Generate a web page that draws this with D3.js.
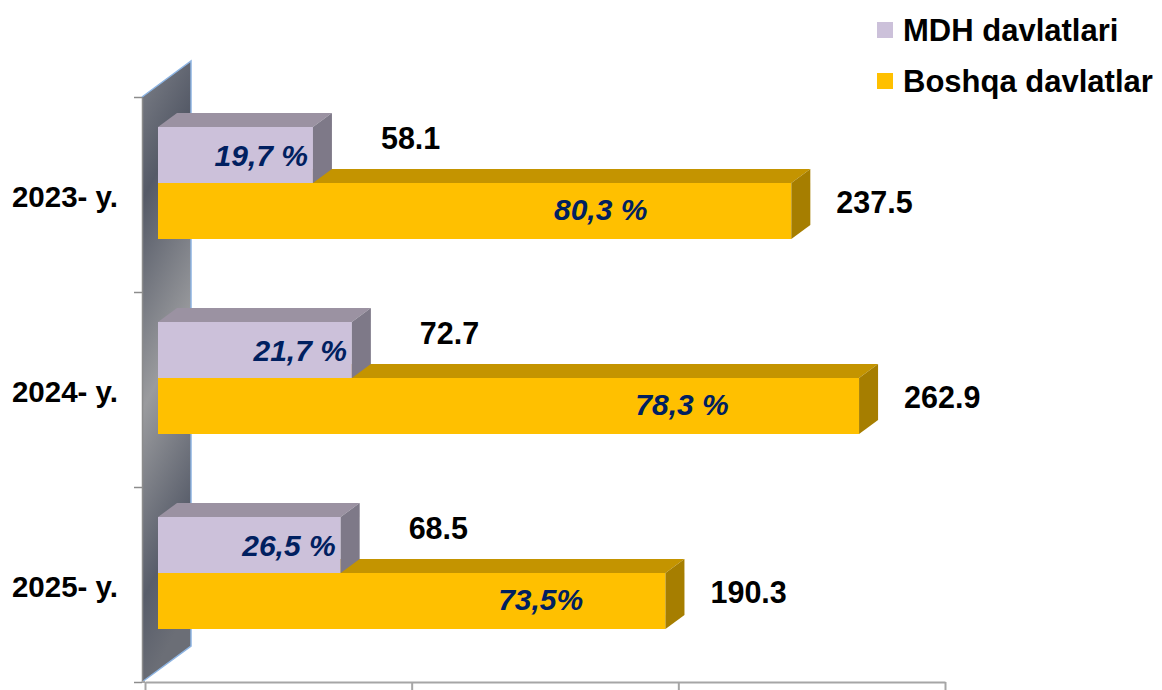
<!DOCTYPE html>
<html>
<head>
<meta charset="utf-8">
<script src="https://cdn.jsdelivr.net/npm/d3@7"></script>
<style>
  body { margin: 0; background: #fff; }
  text { font-family: "Liberation Sans", Arial, sans-serif; font-weight: bold; }
</style>
</head>
<body>
<div id="chart"></div>
<script>
const years = ["2023- y.", "2024- y.", "2025- y."];
const mdh = [58.1, 72.7, 68.5];
const other = [237.5, 262.9, 190.3];
const mdhPct = ["19,7 %", "21,7 %", "26,5 %"];
const otherPct = ["80,3 %", "78,3 %", "73,5%"];
// where the share label of the second series sits, read on the value axis
const otherPctAt = [166, 196.5, 143.5];
const xTicks = [0, 100, 200, 300];
const seriesNames = ["MDH davlatlari", "Boshqa davlatlar"];

var width = 1162, height = 690;

var svg = d3.select("#chart")
  .append("svg")
    .attr("width", width)
    .attr("height", height);

var x = d3.scaleLinear()
    .domain([0, 300])
    .range([145, 945]);

var y = d3.scaleBand()
    .domain(years)
    .range([97, 682]);

// 3d offsets
var wallDx = 49, wallDy = -36;
var barDx = 19, barDy = -14;
var barShift = 13;      // front face of the bars sits a bit behind the wall front
var barH = 56, barTop = 30;

var pts = p => p.map(d => d.join(",")).join(" ");

// back wall
var defs = svg.append("defs");
var grad = defs.append("linearGradient")
    .attr("id", "wall")
    .attr("x1", 0).attr("y1", 0).attr("x2", 0.15).attr("y2", 1);
[[0, "#7d8088"], [0.22, "#555a67"], [0.55, "#9a9b9e"], [0.85, "#585d6a"], [1, "#6b6e76"]]
  .forEach(s => grad.append("stop").attr("offset", s[0]).attr("stop-color", s[1]));

var wx = x(0) - 3, wTop = y.range()[0], wBot = y.range()[1];
svg.append("polygon")
    .attr("points", pts([[wx, wBot], [wx, wTop], [wx + wallDx, wTop + wallDy], [wx + wallDx, wBot + wallDy]]))
    .attr("fill", "url(#wall)");
svg.append("polyline")
    .attr("points", pts([[wx, wTop], [wx + wallDx, wTop + wallDy], [wx + wallDx, wBot + wallDy], [wx, wBot]]))
    .attr("fill", "none")
    .attr("stroke", "#8db4e2")
    .attr("stroke-width", 1.5);

// axes
var yTicks = d3.scaleLinear().domain([0, years.length]).range([wTop, wBot]);
var leftAxis = svg.append("g")
    .attr("transform", "translate(" + wx + ",0)")
    .call(d3.axisLeft(yTicks).tickValues(d3.range(years.length + 1)).tickFormat("").tickSize(8).tickSizeOuter(0));
leftAxis.selectAll("line, path").attr("stroke", "#8c8c8c").attr("stroke-width", 1.5);

var bottomAxis = svg.append("g")
    .attr("transform", "translate(0," + wBot + ")")
    .call(d3.axisBottom(x).tickValues(xTicks).tickFormat("").tickSize(9).tickSizeOuter(0));
bottomAxis.selectAll("line, path").attr("stroke", "#a6a6a6").attr("stroke-width", 2);
bottomAxis.append("line")
    .attr("x1", wx).attr("x2", x(0))
    .attr("stroke", "#a6a6a6").attr("stroke-width", 2);

var bx = v => x(v) + barShift;

function faces(g, v, yTop, c, parts) {
  var x0 = bx(0), x1 = bx(v);
  if (parts.indexOf("top") >= 0)
    g.append("polygon")
      .attr("points", pts([[x0, yTop], [x0 + barDx, yTop + barDy], [x1 + barDx, yTop + barDy], [x1, yTop]]))
      .attr("fill", c.top);
  if (parts.indexOf("front") >= 0)
    g.append("rect")
      .attr("x", x0).attr("y", yTop)
      .attr("width", x1 - x0).attr("height", barH)
      .attr("fill", c.front);
  if (parts.indexOf("side") >= 0)
    g.append("polygon")
      .attr("points", pts([[x1, yTop], [x1 + barDx, yTop + barDy], [x1 + barDx, yTop + barH + barDy], [x1, yTop + barH]]))
      .attr("fill", c.side);
}

var mdhColor = {front: "#ccc1da", top: "#9b92a2", side: "#7e7988"};
var otherColor = {front: "#ffc000", top: "#c49400", side: "#a67e00"};

years.forEach(function (yr, i) {
  var g = svg.append("g");
  var t1 = y(yr) + barTop, t2 = t1 + barH;
  faces(g, other[i], t2, otherColor, ["top"]);
  faces(g, mdh[i], t1, mdhColor, ["top", "front", "side"]);
  faces(g, other[i], t2, otherColor, ["front", "side"]);

  // share labels
  g.append("text")
      .attr("x", bx(mdh[i]) - 5)
      .attr("y", t1 + barH / 2)
      .attr("dy", "0.35em")
      .attr("text-anchor", "end")
      .style("font-style", "italic")
      .style("font-size", "30px")
      .attr("fill", "#002060")
      .text(mdhPct[i]);
  g.append("text")
      .attr("x", bx(otherPctAt[i]))
      .attr("y", t2 + barH / 2 - 2)
      .attr("dy", "0.35em")
      .attr("text-anchor", "middle")
      .style("font-style", "italic")
      .style("font-size", "30px")
      .attr("fill", "#002060")
      .text(otherPct[i]);

  // value labels
  g.append("text")
      .attr("x", bx(mdh[i]) + 68)
      .attr("y", t1 + barH / 2 - 17)
      .attr("dy", "0.35em")
      .style("font-size", "30.5px")
      .attr("fill", "#000")
      .text(mdh[i].toFixed(1));
  g.append("text")
      .attr("x", bx(other[i]) + 45)
      .attr("y", t2 + barH / 2 - 9)
      .attr("dy", "0.35em")
      .style("font-size", "30.5px")
      .attr("fill", "#000")
      .text(other[i].toFixed(1));

  // category
  g.append("text")
      .attr("x", 118)
      .attr("y", y(yr) + y.bandwidth() / 2 + 2)
      .attr("dy", "0.35em")
      .attr("text-anchor", "end")
      .style("font-size", "29.5px")
      .attr("fill", "#000")
      .text(yr);
});

// legend
var legend = svg.append("g")
    .selectAll("g")
    .data(seriesNames)
    .enter()
    .append("g")
    .attr("transform", (d, i) => "translate(877," + (22 + i * 51) + ")");
legend.append("rect")
    .attr("width", 16).attr("height", 16)
    .attr("fill", (d, i) => i == 0 ? mdhColor.front : otherColor.front);
legend.append("text")
    .attr("x", 26)
    .attr("y", 8)
    .attr("dy", "0.35em")
    .style("font-size", "31px")
    .attr("fill", "#000")
    .text(d => d);
</script>
</body>
</html>
